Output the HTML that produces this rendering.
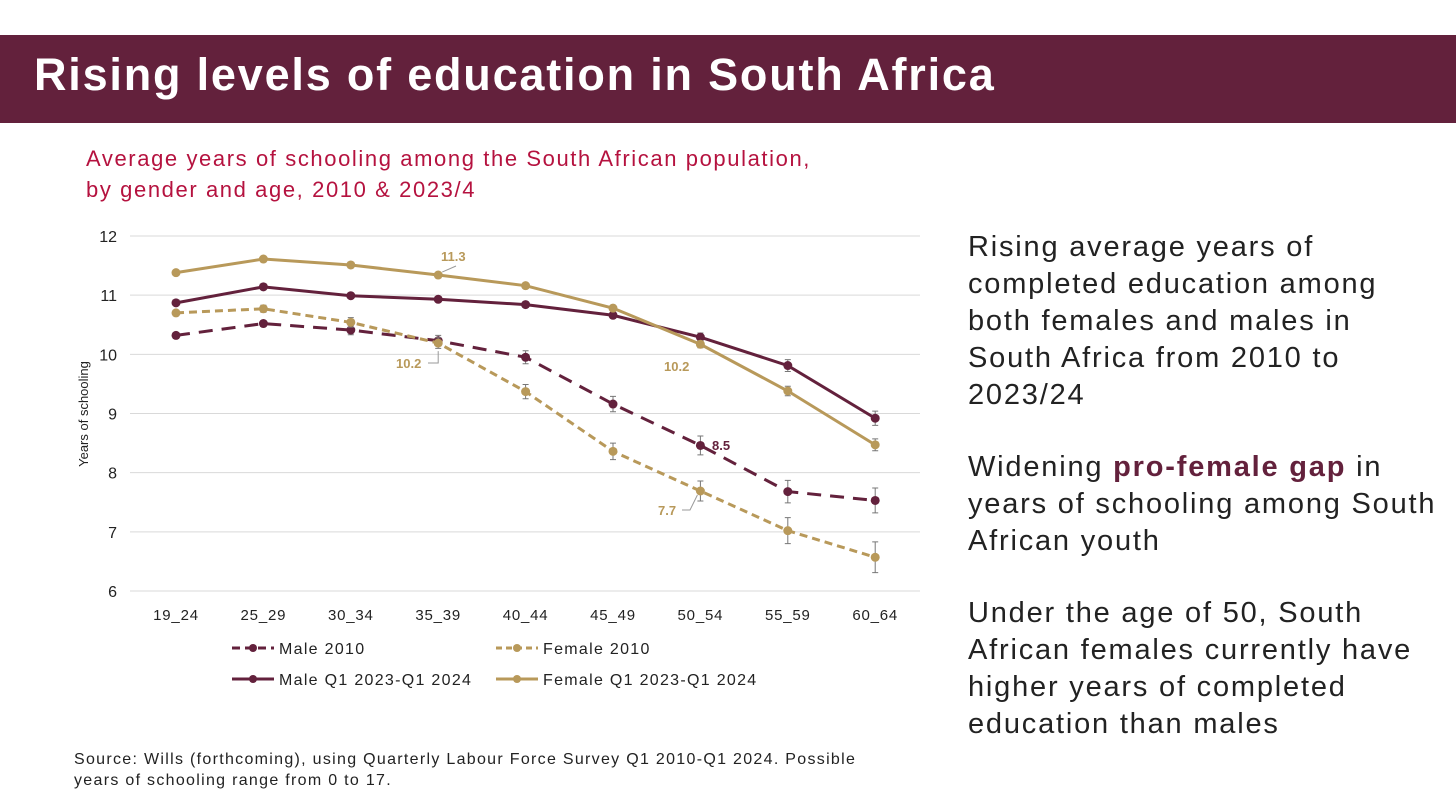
<!DOCTYPE html>
<html><head><meta charset="utf-8">
<style>
body{margin:0;width:1456px;height:810px;background:#fff;font-family:"Liberation Sans",sans-serif;overflow:hidden;position:relative}
#hdr{position:absolute;left:0;top:35px;width:1456px;height:88px;background:#63213c}
#hdr h1{margin:0;position:absolute;left:34px;top:14px;color:#fff;font-size:45px;font-weight:bold;letter-spacing:1.8px;white-space:nowrap}
.sub{position:absolute;left:86px;top:143px;color:#b5123f;font-size:22px;line-height:31px;letter-spacing:1.6px;white-space:nowrap}
.side{position:absolute;left:968px;color:#222;font-size:29px;line-height:37px;letter-spacing:1.8px;white-space:nowrap}
.src{position:absolute;left:74px;top:749px;font-size:16px;line-height:21px;color:#222;letter-spacing:1.3px;white-space:nowrap}
</style></head><body>
<div id="hdr"><h1>Rising levels of education in South Africa</h1></div>
<div class="sub">Average years of schooling among the South African population,<br>by gender and age, 2010 &amp; 2023/4</div>
<div class="side" style="top:229px">Rising average years of<br>completed education among<br>both females and males in<br>South Africa from 2010 to<br>2023/24</div>
<div class="side" style="top:449px">Widening <b style="color:#63213c">pro-female gap</b> in<br>years of schooling among South<br>African youth</div>
<div class="side" style="top:595px">Under the age of 50, South<br>African females currently have<br>higher years of completed<br>education than males</div>
<div class="src">Source: Wills (forthcoming), using Quarterly Labour Force Survey Q1 2010-Q1 2024. Possible<br>years of schooling range from 0 to 17.</div>
<svg id="chart" width="1456" height="810" style="position:absolute;left:0;top:0"></svg>
<script>
const categories=["19_24","25_29","30_34","35_39","40_44","45_49","50_54","55_59","60_64"];
const male2010=[10.32,10.52,10.41,10.23,9.95,9.16,8.46,7.68,7.53];
const female2010=[10.70,10.77,10.54,10.19,9.37,8.36,7.69,7.02,6.57];
const male2023=[10.87,11.14,10.99,10.93,10.84,10.66,10.29,9.81,8.92];
const female2023=[11.38,11.61,11.51,11.34,11.16,10.78,10.17,9.38,8.47];
const errM10=[0.04,0.05,0.08,0.09,0.11,0.13,0.16,0.19,0.21];
const errF10=[0.04,0.06,0.08,0.09,0.12,0.14,0.17,0.22,0.26];
const errM23=[0.03,0.03,0.03,0.03,0.04,0.05,0.07,0.1,0.12];
const errF23=[0.03,0.03,0.03,0.03,0.04,0.05,0.06,0.08,0.1];
const yTicks=[6,7,8,9,10,11,12];
const NS="http://www.w3.org/2000/svg";
const svg=document.getElementById("chart");
const x=i=>176+i*87.4;
const y=v=>591-(v-6)*59.17;
function mk(t,a){const e=document.createElementNS(NS,t);for(const k in a)e.setAttribute(k,a[k]);svg.appendChild(e);return e;}
yTicks.forEach(v=>{
 const g=mk("line",{x1:130,x2:920,y1:y(v),y2:y(v),stroke:"#d9d9d9","stroke-width":1});
 
 
 const t=mk("text",{x:117,y:y(v)+6,"text-anchor":"end","font-size":16,fill:"#222"});t.textContent=v;
 
 
});
categories.forEach((c,i)=>{
 const t=mk("text",{x:x(i),y:620,"text-anchor":"middle","font-size":15,fill:"#222","letter-spacing":0.8});t.textContent=c;
 
 
});
const yt=mk("text",{transform:"translate(88,414) rotate(-90)","text-anchor":"middle","font-size":13,fill:"#222"});yt.textContent="Years of schooling";


function series(vals,errs,col,dash,name){
 const l=mk("polyline",{points:vals.map((v,i)=>x(i)+","+y(v)).join(" "),fill:"none",stroke:col,"stroke-width":3,"stroke-dasharray":dash});
 
 
 vals.forEach((v,i)=>{
  const e=mk("path",{d:`M${x(i)-3},${y(v+errs[i])}h6M${x(i)},${y(v+errs[i])}V${y(v-errs[i])}M${x(i)-3},${y(v-errs[i])}h6`,stroke:"#777","stroke-width":1,fill:"none"});
  
  
  const c=mk("circle",{cx:x(i),cy:y(v),r:4.5,fill:col});
  
  
 });
}
const MAR="#63213c",GLD="#b8995a";
series(male2010,errM10,MAR,"14 9","male-2010");
series(female2010,errF10,GLD,"8 5","female-2010");
series(male2023,errM23,MAR,"","male-2023");
series(female2023,errF23,GLD,"","female-2023");
function lab(txt,lx,ly,col,lead){
 if(lead){const p=mk("path",{d:lead,stroke:"#999",fill:"none","stroke-width":1});}
 const t=mk("text",{x:lx,y:ly,"font-size":13,"font-weight":"bold",fill:col});t.textContent=txt;
 
 
}
lab(female2023[3].toFixed(1),441,261,GLD,`M${x(3)+4},${y(female2023[3])-3}L456,266`);
lab(female2010[3].toFixed(1),396,368,GLD,`M${x(3)},${y(female2010[3])+8}V363H428`);
lab(female2023[6].toFixed(1),664,371,GLD,"");
lab(male2010[6].toFixed(1),712,450,MAR,"");
lab(female2010[6].toFixed(1),658,515,GLD,`M682,510H690L${x(6)-3},${y(female2010[6])+4}`);
const leg=[["Male 2010",MAR,"8 5",232,648],["Female 2010",GLD,"6 4",496,648],["Male Q1 2023-Q1 2024",MAR,"",232,679],["Female Q1 2023-Q1 2024",GLD,"",496,679]];
leg.forEach(d=>{
 const l=mk("line",{x1:d[3],x2:d[3]+42,y1:d[4],y2:d[4],stroke:d[1],"stroke-width":3,"stroke-dasharray":d[2]});
 
 
 const c=mk("circle",{cx:d[3]+21,cy:d[4],r:4,fill:d[1]});
 
 
 const t=mk("text",{x:d[3]+47,y:d[4]+6,"font-size":16,fill:"#222","letter-spacing":1.3});t.textContent=d[0];
 
 
});
</script>
</body></html>
